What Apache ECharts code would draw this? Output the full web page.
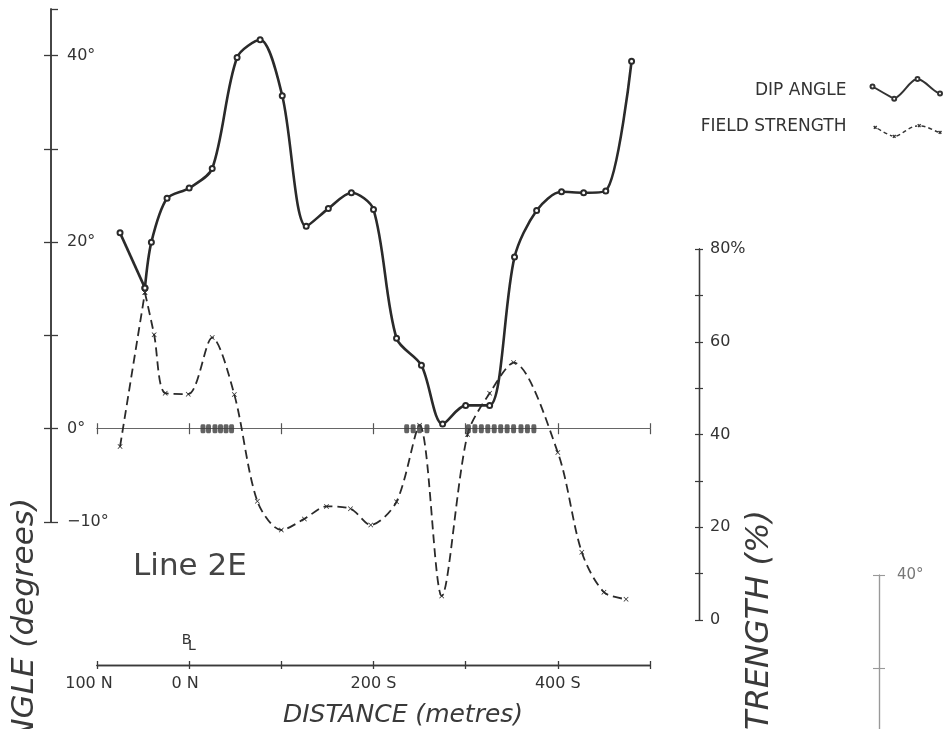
<!DOCTYPE html>
<html>
<head>
<meta charset="utf-8">
<script src="https://cdn.jsdelivr.net/npm/echarts@6/dist/echarts.min.js"></script>
<style>html,body{margin:0;padding:0;background:#fff}#chart{width:948px;height:729px}</style>
</head>
<body>
<div id="chart"></div>
<script>
// ---- data ----
const distanceTickValues = [-100, 0, 100, 200, 300, 400, 500];
const distanceLabelValues = [-100, 0, 200, 400];
const distanceLabelText = {'-100': '100 N', '0': '0 N', '200': '200 S', '400': '400 S'};
const dipTickValues = [-10, 0, 10, 20, 30, 40];
const dipTopCap = [45];
const dipLabelValues = [-10, 0, 20, 40];
const fieldTickValues = [0, 10, 20, 30, 40, 50, 60, 70, 80];
const fieldLabelValues = [0, 20, 40, 60, 80];
const fragTickValues = [30, 40];
const fragLabelValues = [40];

// dip angle (degrees) vs distance (m, + = south)
const dipWest = [[-75, 21.0], [-48, 15.1]];
const dipEast = [[-48, 15.1], [-41, 20.0], [-24, 24.7], [0, 25.8], [25, 27.9], [52, 39.8], [77, 41.7],
  [101, 35.7], [127, 21.7], [151, 23.6], [176, 25.3], [200, 23.5], [225, 9.7], [252, 6.8],
  [275, 0.5], [300, 2.5], [326, 2.5], [353, 18.4], [377, 23.4], [404, 25.4], [428, 25.3],
  [452, 25.5], [480, 39.4]];
// field strength (%) vs distance
const fieldWest = [[-75, 37.4], [-48, 70.6]];
const fieldEast = [[-48, 70.6], [-38, 61.5], [-26, 48.9], [-1, 48.7], [25, 60.9], [49, 48.6],
  [74, 25.6], [100, 19.4], [125, 21.8], [149, 24.5], [175, 24.0], [197, 20.5], [225, 25.5],
  [250, 42.0], [274, 5.2], [302, 40.0], [326, 48.9], [352, 55.5], [400, 36.1], [426, 14.6],
  [450, 6.0], [474, 4.5]];
// hatched conductor blocks along the 0° line (distance, m)
const conductorBlocks = [15, 21, 28, 34, 40, 46, 236, 243, 250, 258,
  303, 310, 317, 324, 331, 338, 345, 352, 360, 367, 374];

// ---- styling ----
const INK = '#333';
const AXIS = '#3a3a3a';
const FONT = '"DejaVu Sans", "Liberation Sans", sans-serif';
const xMark = 'path://M0,1L1,0L5,4L9,0L10,1L6,5L10,9L9,10L5,6L1,10L0,9L4,5Z';
const dipIcon = 'path://M0,0M91,30' +
  'M19,10.5A2,2 0 1 0 23,10.5A2,2 0 1 0 19,10.5' +
  'M22.8,11.5Q32,17 40.9,21.8' +
  'M40.7,22.8A2,2 0 1 0 44.7,22.8A2,2 0 1 0 40.7,22.8' +
  'M44.5,21.8C52,18 58,5 64.2,3.6' +
  'M64,3A2,2 0 1 0 68,3A2,2 0 1 0 64,3' +
  'M67.8,3.6C74,5 80,14 86.6,16.8' +
  'M86.5,17.5A2,2 0 1 0 90.5,17.5A2,2 0 1 0 86.5,17.5';
const fieldIcon = 'path://M0,0M91,30' +
  'M22.2,14.5L25.2,17.5M25.2,14.5L22.2,17.5' +
  'M26,17Q34,22 40.5,24.5' +
  'M41.2,23.5L44.2,26.5M44.2,23.5L41.2,26.5' +
  'M45,24.5C52,22 58,15 65.5,14.5' +
  'M66.2,12.8L69.2,15.8M69.2,12.8L66.2,15.8' +
  'M70,14.5C76,15 82,19 86.5,20.5' +
  'M87,19.5L90,22.5M90,19.5L87,22.5';

function distLabel(v) {
  const t = distanceLabelText[String(v)] || '';
  if (v === -100) return '{l|' + t + '}';
  if (v === 0) return '{m|' + t + '}';
  return t;
}
function degLabel(v) { return (v < 0 ? '\u2212' + Math.abs(v) : v) + '°'; }

const lineAxis = (extra) => Object.assign({
  type: 'value', min: -100, max: 500, interval: 100, splitLine: {show: false}
}, extra);

const SMOOTH = 0.3;

const option = {
  backgroundColor: '#ffffff',
  animation: false,
  textStyle: {fontFamily: FONT},
  title: {
    text: 'Line 2E', left: 133, top: 551, padding: 0,
    textStyle: {fontSize: 31, fontWeight: 'normal', color: '#444', fontFamily: FONT}
  },
  legend: {
    orient: 'vertical', right: 3, top: 73.5, padding: 0, align: 'right',
    itemWidth: 91, itemHeight: 30, itemGap: 0.5,
    textStyle: {fontSize: 17, color: INK, fontFamily: FONT},
    data: [
      {name: 'DIP ANGLE', icon: dipIcon, itemStyle: {color: 'none', borderColor: INK, borderWidth: 2}},
      {name: 'FIELD STRENGTH', icon: fieldIcon, itemStyle: {color: 'none', borderColor: INK, borderWidth: 1.4, borderType: [4, 3]}}
    ]
  },
  grid: [
    {left: 97, width: 553, top: 9, height: 513},
    {left: 97, width: 553, top: 249, height: 371},
    {left: 879, width: 40, top: 575, bottom: 0}
  ],
  xAxis: [
    lineAxis({gridIndex: 0, position: 'bottom',
      axisLine: {onZero: true, onZeroAxisIndex: 0, lineStyle: {color: '#666', width: 1}},
      axisTick: {length: 5.5, lineStyle: {color: '#555', width: 1.2}}, axisLabel: {show: false}}),
    lineAxis({gridIndex: 0, position: 'bottom',
      axisLine: {onZero: true, onZeroAxisIndex: 0, lineStyle: {color: '#666', width: 1}},
      axisTick: {inside: true, length: 5.5, lineStyle: {color: '#555', width: 1.2}}, axisLabel: {show: false}}),
    lineAxis({gridIndex: 0, position: 'bottom', offset: 143,
      axisLine: {onZero: false, lineStyle: {color: AXIS, width: 1.3}},
      axisTick: {length: 4, customValues: distanceTickValues, lineStyle: {color: AXIS, width: 1.3}},
      axisLabel: {customValues: distanceLabelValues, formatter: distLabel, margin: 11,
        fontSize: 16, color: INK, fontFamily: FONT,
        rich: {l: {fontSize: 16, color: INK, fontFamily: FONT, padding: [0, 16, 0, 0]},
               m: {fontSize: 16, color: INK, fontFamily: FONT, padding: [0, 8, 0, 0]}}}}),
    lineAxis({gridIndex: 0, position: 'bottom', offset: 143,
      axisLine: {onZero: false, lineStyle: {color: AXIS, width: 1.3}},
      axisTick: {inside: true, length: 4, customValues: distanceTickValues, lineStyle: {color: AXIS, width: 1.3}},
      axisLabel: {show: false}}),
    lineAxis({gridIndex: 1, show: false}),
    {type: 'value', gridIndex: 2, min: 0, max: 1, show: false}
  ],
  yAxis: [
    {type: 'value', gridIndex: 0, min: -10, max: 45, position: 'left', offset: 46, splitLine: {show: false},
      axisLine: {onZero: false, lineStyle: {color: AXIS, width: 1.5}},
      axisTick: {length: 7, customValues: dipTickValues, lineStyle: {color: AXIS, width: 1.3}},
      axisLabel: {show: false}},
    {type: 'value', gridIndex: 0, min: -10, max: 45, position: 'left', offset: 46, splitLine: {show: false},
      axisLine: {onZero: false, lineStyle: {color: AXIS, width: 1.5}},
      axisTick: {inside: true, length: 7, customValues: dipTickValues.concat(dipTopCap), lineStyle: {color: AXIS, width: 1.3}},
      axisLabel: {inside: true, margin: 16, customValues: dipLabelValues, formatter: degLabel,
        fontSize: 16, color: INK, fontFamily: FONT}},
    {type: 'value', gridIndex: 1, min: 0, max: 80, position: 'right', offset: 49, splitLine: {show: false},
      axisLine: {onZero: false, lineStyle: {color: AXIS, width: 1.3}},
      axisTick: {length: 4, customValues: fieldTickValues, lineStyle: {color: AXIS, width: 1.2}},
      axisLabel: {margin: 11, customValues: fieldLabelValues, formatter: v => v === 80 ? '80%' : String(v),
        fontSize: 16, color: INK, fontFamily: FONT}},
    {type: 'value', gridIndex: 1, min: 0, max: 80, position: 'right', offset: 49, splitLine: {show: false},
      axisLine: {onZero: false, lineStyle: {color: AXIS, width: 1.3}},
      axisTick: {inside: true, length: 4, customValues: fieldTickValues, lineStyle: {color: AXIS, width: 1.2}},
      axisLabel: {show: false}},
    {type: 'value', gridIndex: 2, min: 23.5, max: 40, position: 'left', splitLine: {show: false},
      axisLine: {onZero: false, lineStyle: {color: '#999', width: 1.2}},
      axisTick: {length: 6, customValues: fragTickValues, lineStyle: {color: '#999', width: 1.1}},
      axisLabel: {show: false}},
    {type: 'value', gridIndex: 2, min: 23.5, max: 40, position: 'left', splitLine: {show: false},
      axisLine: {onZero: false, lineStyle: {color: '#999', width: 1.2}},
      axisTick: {inside: true, length: 6, customValues: fragTickValues, lineStyle: {color: '#999', width: 1.1}},
      axisLabel: {inside: true, margin: 18, customValues: fragLabelValues, formatter: degLabel,
        fontSize: 15, color: '#777', fontFamily: FONT}}
  ],
  series: [
    {type: 'line', name: 'DIP ANGLE', xAxisIndex: 0, yAxisIndex: 0, data: dipWest, smooth: false,
      symbol: 'emptyCircle', symbolSize: 5, z: 4,
      lineStyle: {color: '#2a2a2a', width: 2.6}, itemStyle: {color: '#2a2a2a', borderWidth: 1.2}},
    {type: 'line', name: 'DIP ANGLE', xAxisIndex: 0, yAxisIndex: 0, data: dipEast, smooth: SMOOTH,
      symbol: 'emptyCircle', symbolSize: 5, z: 4,
      lineStyle: {color: '#2a2a2a', width: 2.6}, itemStyle: {color: '#2a2a2a', borderWidth: 1.2}},
    {type: 'line', name: 'FIELD STRENGTH', xAxisIndex: 4, yAxisIndex: 2, data: fieldWest, smooth: false,
      symbol: xMark, symbolSize: 5, z: 3,
      lineStyle: {color: '#2a2a2a', width: 1.8, type: [9, 5]}, itemStyle: {color: '#2a2a2a'}},
    {type: 'line', name: 'FIELD STRENGTH', xAxisIndex: 4, yAxisIndex: 2, data: fieldEast, smooth: SMOOTH,
      symbol: xMark, symbolSize: 5, z: 3,
      lineStyle: {color: '#2a2a2a', width: 1.8, type: [9, 5]}, itemStyle: {color: '#2a2a2a'}},
    {type: 'scatter', name: 'conductor', xAxisIndex: 0, yAxisIndex: 0,
      data: conductorBlocks.map(d => [d, 0]), symbol: 'roundRect', symbolSize: [5, 9], z: 6,
      itemStyle: {color: '#3c3c3c'}}
  ],
  graphic: [
    {type: 'text', x: 25, y: 498, rotation: Math.PI / 2, z: 10,
      style: {text: 'DIP ANGLE (degrees)', font: 'italic 31px "DejaVu Sans"', fill: '#3a3a3a', align: 'right', verticalAlign: 'middle'}},
    {type: 'text', x: 760, y: 510, rotation: Math.PI / 2, z: 10,
      style: {text: 'FIELD STRENGTH (%)', font: 'italic 32px "DejaVu Sans"', fill: '#3a3a3a', align: 'right', verticalAlign: 'middle'}},
    {type: 'text', x: 403, y: 715, z: 10,
      style: {text: 'DISTANCE (metres)', font: 'italic 25px "DejaVu Sans"', fill: '#3a3a3a', align: 'center', verticalAlign: 'middle'}},
    {type: 'text', x: 186.5, y: 640, z: 10,
      style: {text: 'B', font: '14px "DejaVu Sans"', fill: '#333', align: 'center', verticalAlign: 'middle'}},
    {type: 'text', x: 192, y: 646.5, z: 10,
      style: {text: 'L', font: '14px "DejaVu Sans"', fill: '#333', align: 'center', verticalAlign: 'middle'}}
  ]
};

const chart = echarts.init(document.getElementById('chart'), null, {renderer: 'canvas'});
chart.setOption(option);
</script>
</body>
</html>
